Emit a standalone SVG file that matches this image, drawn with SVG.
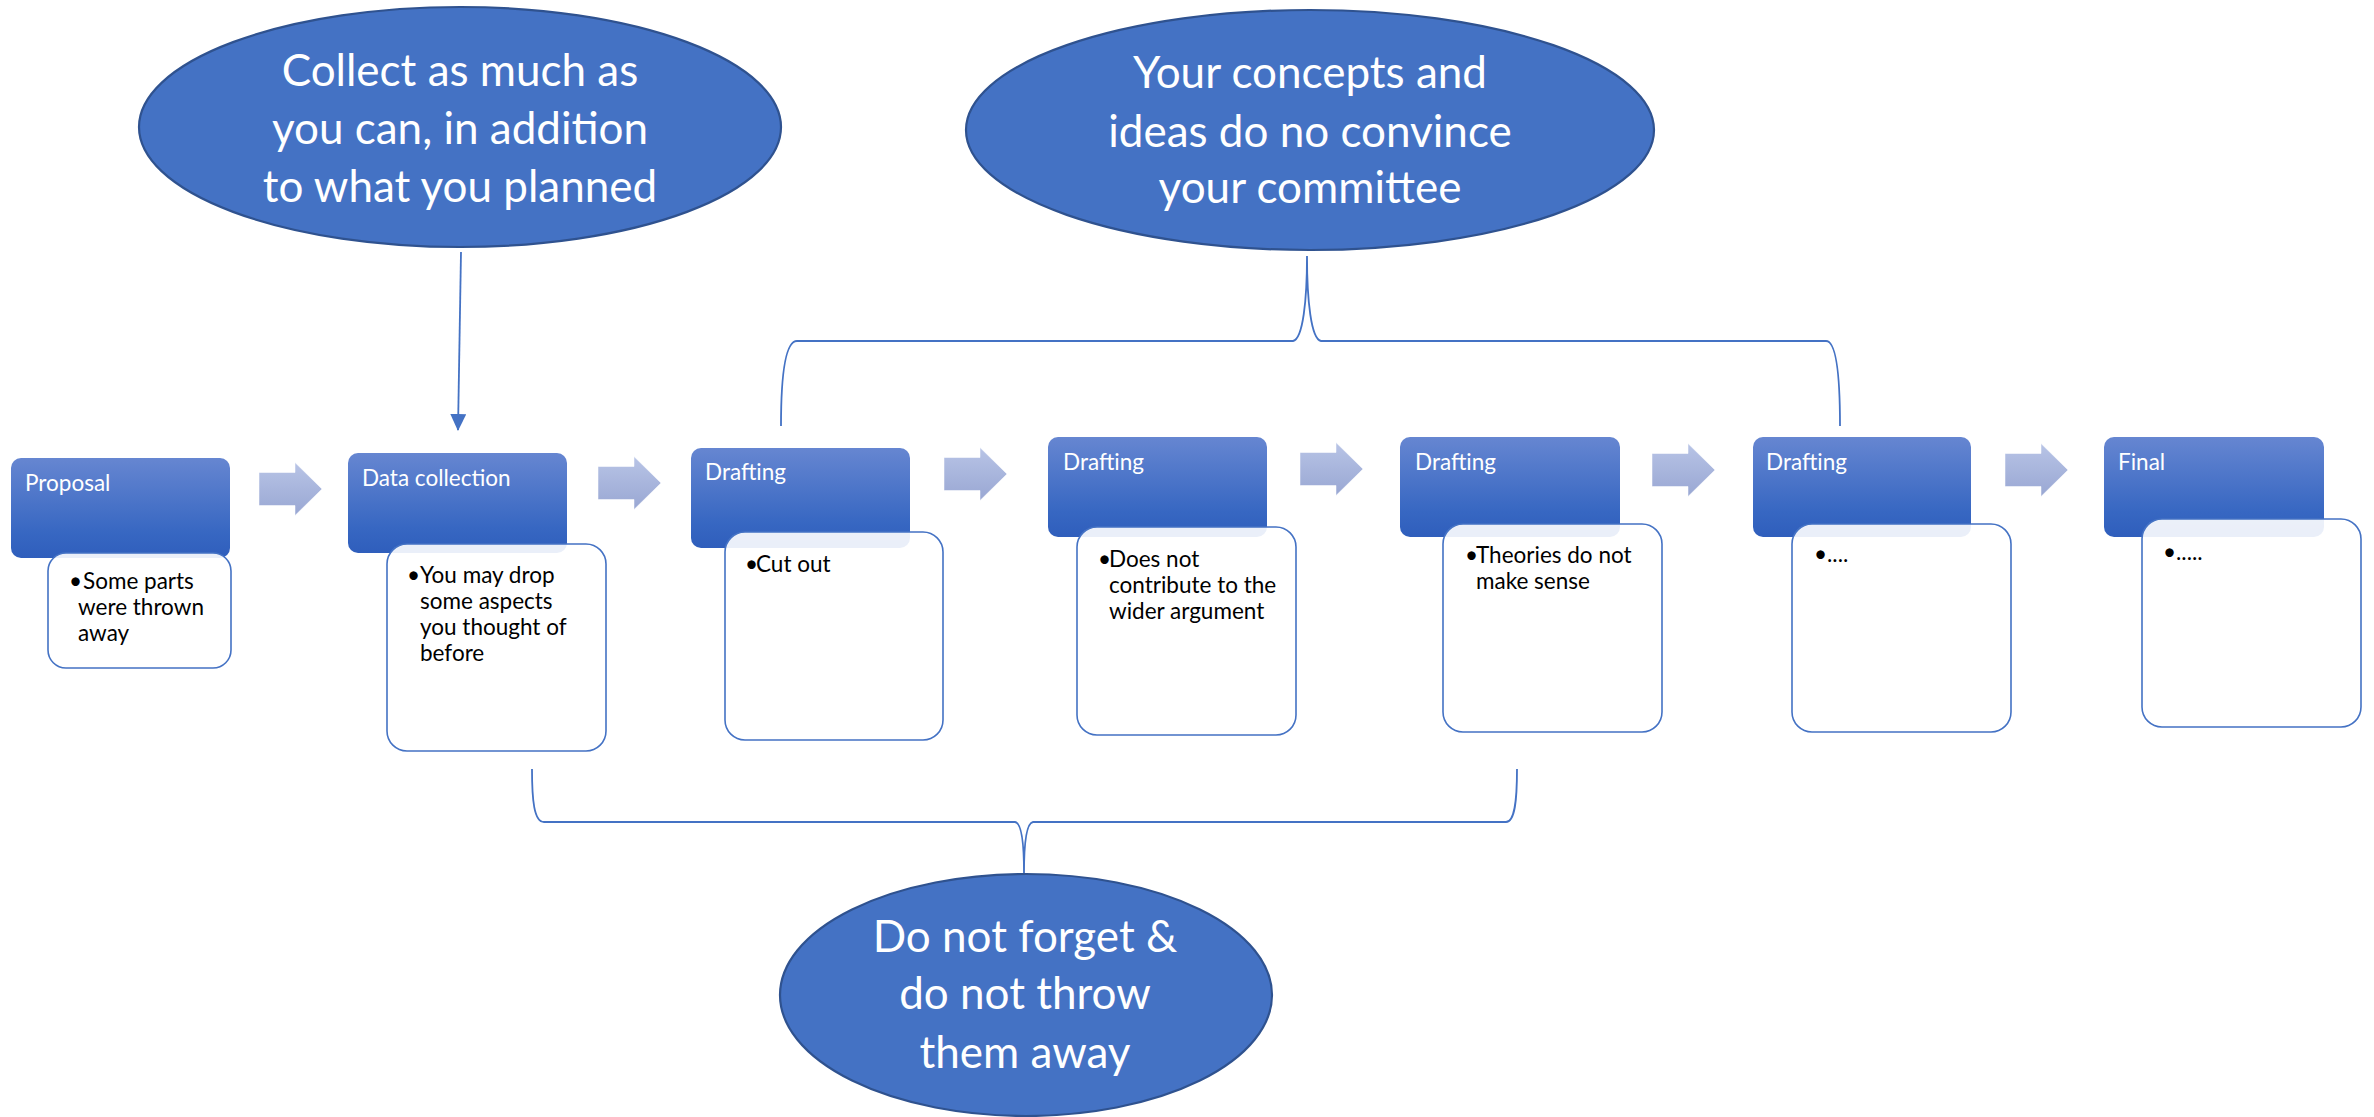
<svg xmlns="http://www.w3.org/2000/svg" width="2374" height="1117" viewBox="0 0 2374 1117">
<defs>
<linearGradient id="hdrGrad" x1="0" y1="0" x2="0" y2="1">
<stop offset="0" stop-color="#6686d1"/>
<stop offset="0.75" stop-color="#3767c2"/>
<stop offset="1" stop-color="#2f5ebc"/>
</linearGradient>
<linearGradient id="arrGrad" x1="0" y1="0" x2="0" y2="1">
<stop offset="0" stop-color="#b8c4e6"/>
<stop offset="1" stop-color="#99a7d3"/>
</linearGradient>
<path id="chev" d="M0 -16.5 L36 -16.5 L36 -26.5 L63 0 L36 26.5 L36 16.5 L0 16.5 Z"/>
<marker id="ah" markerWidth="17" markerHeight="16" refX="16" refY="8" orient="auto" markerUnits="userSpaceOnUse" viewBox="0 0 17 16">
<path d="M0 0 L17 8 L0 16 Z" fill="#4472c4"/>
</marker>
</defs>
<style>
.hdr{fill:url(#hdrGrad);}
.sub{fill:#ffffff;fill-opacity:0.9;stroke:#4472c4;stroke-width:1.6;}
.arr{fill:url(#arrGrad);stroke:#ffffff;stroke-opacity:0.5;stroke-width:1;}
.oval{fill:#4472c4;stroke:#2f528f;stroke-width:2.2;}
.ht{font-family:Lato,"Open Sans","Liberation Sans",sans-serif;font-size:22.5px;fill:#ffffff;}
.bt{font-family:Lato,"Open Sans","Liberation Sans",sans-serif;font-size:22.5px;fill:#000000;}
.ot{font-family:Lato,"Open Sans","Liberation Sans",sans-serif;font-size:44px;fill:#ffffff;text-anchor:middle;}
.con{fill:none;stroke:#4472c4;stroke-width:1.8;}
</style>
<rect width="2374" height="1117" fill="#ffffff"/>

<g id="connectors">
<use href="#chev" class="arr" x="259" y="489"/>
<use href="#chev" class="arr" x="598" y="483"/>
<use href="#chev" class="arr" x="944" y="474"/>
<use href="#chev" class="arr" x="1300" y="469"/>
<use href="#chev" class="arr" x="1652" y="470"/>
<use href="#chev" class="arr" x="2005" y="470"/>
<line class="con" x1="461" y1="252" x2="458" y2="430" marker-end="url(#ah)"/>
<path class="con" d="M781 426 C781 375 785 341 797 341 L1293 341 C1303 339 1307 300 1307 256 C1307 300 1311 339 1321 341 L1826 341 C1836 341 1840 375 1840 426"/>
<path class="con" d="M532 769 C532 800 534 822 544 822 L1015 822 C1021 823 1024 840 1024 873 C1024 840 1027 823 1033 822 L1506 822 C1515 822 1517 800 1517 769"/>
</g>

<g id="node-proposal">
<rect class="hdr" x="11" y="458" width="219" height="100" rx="10"/>
<text class="ht" x="25" y="491">Proposal</text>
<rect class="sub" x="48" y="553" width="183" height="115" rx="18"/>
<text class="bt" x="69" y="589">•</text>
<text class="bt" x="83" y="589">Some parts</text>
<text class="bt" x="78" y="615">were thrown</text>
<text class="bt" x="78" y="641">away</text>
</g>

<g id="node-data-collection">
<rect class="hdr" x="348" y="453" width="219" height="100" rx="10"/>
<text class="ht" x="362" y="486">Data collection</text>
<rect class="sub" x="387" y="544" width="219" height="207" rx="20"/>
<text class="bt" x="407" y="583">•</text>
<text class="bt" x="420" y="583">You may drop</text>
<text class="bt" x="420" y="609">some aspects</text>
<text class="bt" x="420" y="635">you thought of</text>
<text class="bt" x="420" y="661">before</text>
</g>

<g id="node-drafting-1">
<rect class="hdr" x="691" y="448" width="219" height="100" rx="10"/>
<text class="ht" x="705" y="480">Drafting</text>
<rect class="sub" x="725" y="532" width="218" height="208" rx="20"/>
<text class="bt" x="745" y="572">•</text>
<text class="bt" x="756" y="572">Cut out</text>
</g>

<g id="node-drafting-2">
<rect class="hdr" x="1048" y="437" width="219" height="100" rx="10"/>
<text class="ht" x="1063" y="470">Drafting</text>
<rect class="sub" x="1077" y="527" width="219" height="208" rx="20"/>
<text class="bt" x="1098" y="567">•</text>
<text class="bt" x="1109" y="567">Does not</text>
<text class="bt" x="1109" y="593">contribute to the</text>
<text class="bt" x="1109" y="619">wider argument</text>
</g>

<g id="node-drafting-3">
<rect class="hdr" x="1400" y="437" width="220" height="100" rx="10"/>
<text class="ht" x="1415" y="470">Drafting</text>
<rect class="sub" x="1443" y="524" width="219" height="208" rx="20"/>
<text class="bt" x="1465" y="563">•</text>
<text class="bt" x="1476" y="563">Theories do not</text>
<text class="bt" x="1476" y="589">make sense</text>
</g>

<g id="node-drafting-4">
<rect class="hdr" x="1753" y="437" width="218" height="100" rx="10"/>
<text class="ht" x="1766" y="470">Drafting</text>
<rect class="sub" x="1792" y="524" width="219" height="208" rx="20"/>
<text class="bt" x="1814" y="562">•....</text>
</g>

<g id="node-final">
<rect class="hdr" x="2104" y="437" width="220" height="100" rx="10"/>
<text class="ht" x="2118" y="470">Final</text>
<rect class="sub" x="2142" y="519" width="219" height="208" rx="20"/>
<text class="bt" x="2163" y="560">•.....</text>
</g>

<g id="node-collect">
<ellipse class="oval" cx="460" cy="127" rx="321" ry="120"/>
<text class="ot" x="460" y="86">Collect as much as</text>
<text class="ot" x="460" y="144">you can, in addition</text>
<text class="ot" x="460" y="202">to what you planned</text>
</g>

<g id="node-concepts">
<ellipse class="oval" cx="1310" cy="130" rx="344" ry="120"/>
<text class="ot" x="1310" y="88">Your concepts and</text>
<text class="ot" x="1310" y="147">ideas do no convince</text>
<text class="ot" x="1310" y="203">your committee</text>
</g>

<g id="node-donotforget">
<ellipse class="oval" cx="1026" cy="995" rx="246" ry="121"/>
<text class="ot" x="1025" y="952">Do not forget &amp;</text>
<text class="ot" x="1025" y="1009">do not throw</text>
<text class="ot" x="1025" y="1068">them away</text>
</g>
</svg>
